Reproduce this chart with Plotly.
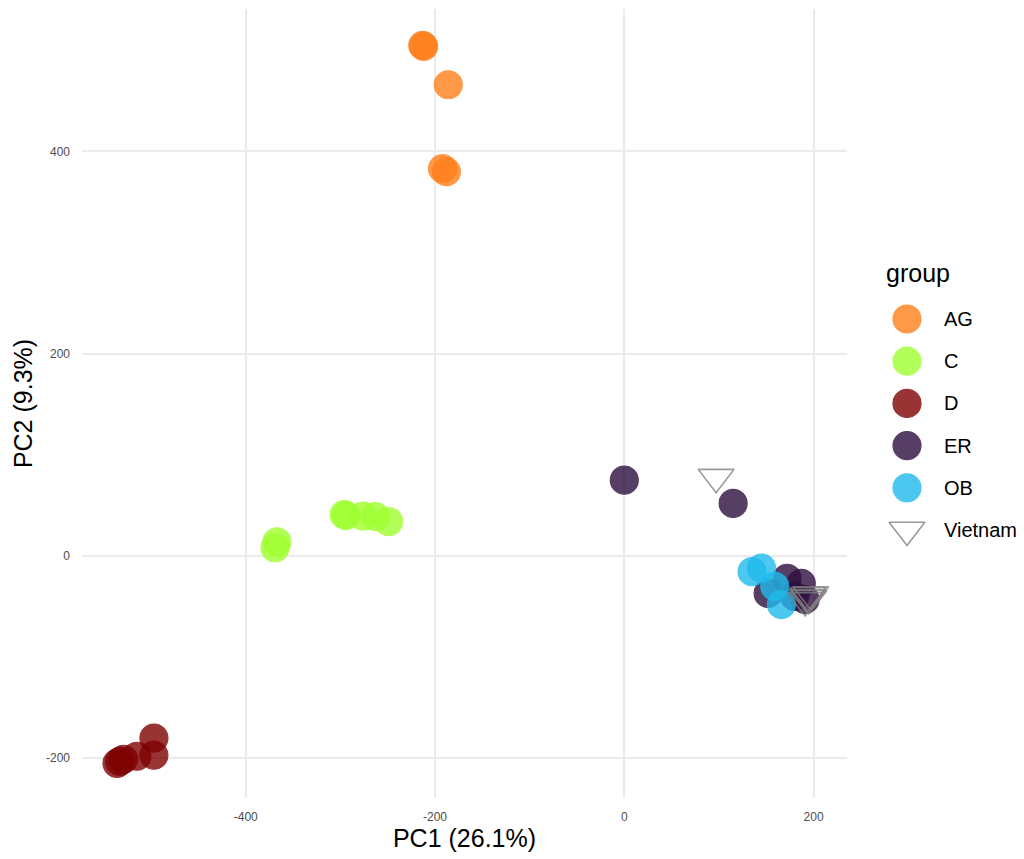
import plotly.graph_objects as go

# ---------------- data ----------------
groups = ["AG", "C", "D", "ER", "OB", "Vietnam"]

ag_x = [-213, -212, -186, -192, -188]
ag_y = [505, 504, 466, 383, 380]

c_x = [-367, -369, -296, -294, -276, -263, -249]
c_y = [14, 8, 41, 40, 39.5, 39, 34]

d_x = [-536, -533, -529, -515, -497, -497]
d_y = [-205, -203, -201, -198, -197, -180]

er_x = [0, 115, 152, 172, 187, 180, 191]
er_y = [75, 52, -37, -22, -27, -40, -43]

ob_x = [135, 145, 159, 166]
ob_y = [-15.5, -12, -30, -48]

vn_x = [97, 194, 195, 193, 197, 191]
vn_y = [78, -39, -42, -41, -38, -44]

colors = {
    "AG": "#FF7F1A",
    "C": "#A0FF30",
    "D": "#7F0202",
    "ER": "#2E0E3E",
    "OB": "#20BAEC",
    "Vietnam": "#7F7F7F",
}

series = {
    "AG": (ag_x, ag_y),
    "C": (c_x, c_y),
    "D": (d_x, d_y),
    "ER": (er_x, er_y),
    "OB": (ob_x, ob_y),
    "Vietnam": (vn_x, vn_y),
}

FONT = "Liberation Sans, Arial, Helvetica, sans-serif"


def marker_for(g):
    if g == "Vietnam":
        return dict(symbol="triangle-down-open", size=31, color=colors[g],
                    opacity=0.8, line=dict(width=1.6, color=colors[g]))
    return dict(symbol="circle", size=28, color=colors[g], opacity=0.8,
                line=dict(width=1.2, color=colors[g]))


fig = go.Figure()

for g in groups:
    xs, ys = series[g]
    fig.add_trace(go.Scatter(
        x=xs, y=ys, mode="markers", name=g, marker=marker_for(g),
        showlegend=False, xaxis="x", yaxis="y", hoverinfo="x+y+name"))

# ---------------- hand-built legend (larger keys, like ggplot) ----------------
legend_key_x = 907
legend_text_x = 942
for i, g in enumerate(groups):
    fig.add_trace(go.Scatter(
        x=[legend_key_x], y=[i], mode="markers", marker=marker_for(g),
        showlegend=False, xaxis="x2", yaxis="y2", hoverinfo="skip"))
    fig.add_annotation(x=legend_text_x, y=i, xref="x2", yref="y2", text=g,
                       showarrow=False, xanchor="left", yanchor="middle",
                       font=dict(family=FONT, size=20, color="#000000"))
fig.add_annotation(x=884, y=-1.1, xref="x2", yref="y2", text="group",
                   showarrow=False, xanchor="left", yanchor="middle",
                   font=dict(family=FONT, size=25, color="#000000"))

# page body has an 8px margin, so the figure is shrunk by 8px on each axis
W, H = 1016, 851
ML, MR, MT, MB = 74, 0, 1, 61
pw = W - ML - MR

fig.update_layout(
    width=W, height=H,
    margin=dict(l=ML, r=MR, t=MT, b=MB),
    paper_bgcolor="white", plot_bgcolor="white",
    showlegend=False,
    font=dict(family=FONT),
    xaxis=dict(
        domain=[0, 765 / pw],
        range=[-573, 235.3],
        tickvals=[-400, -200, 0, 200],
        ticktext=["-400", "-200", "0", "200"],
        showgrid=True, gridcolor="#EBEBEB", gridwidth=2,
        zeroline=False, showline=False, ticks="",
        ticklabelstandoff=10,
        tickfont=dict(family=FONT, size=12, color="#4D4D4D"),
        title=dict(text="PC1 (26.1%)", font=dict(family=FONT, size=25, color="#000000"),
                   standoff=6),
        automargin=False,
    ),
    yaxis=dict(
        domain=[0, 1],
        range=[-239.3, 540.9],
        tickvals=[-200, 0, 200, 400],
        ticktext=["-200", "0", "200", "400"],
        showgrid=True, gridcolor="#EBEBEB", gridwidth=2,
        zeroline=False, showline=False, ticks="",
        ticklabelstandoff=11,
        tickfont=dict(family=FONT, size=12, color="#4D4D4D"),
        title=dict(text="PC2 (9.3%)", font=dict(family=FONT, size=25, color="#000000"),
                   standoff=6),
        automargin=False,
    ),
    xaxis2=dict(domain=[798 / pw, 1], range=[880, 1024], visible=False,
                fixedrange=True),
    yaxis2=dict(domain=[0, 1], range=[11.35, -7.346], visible=False,
                fixedrange=True, anchor="x2"),
)

fig.write_html("out.html")
